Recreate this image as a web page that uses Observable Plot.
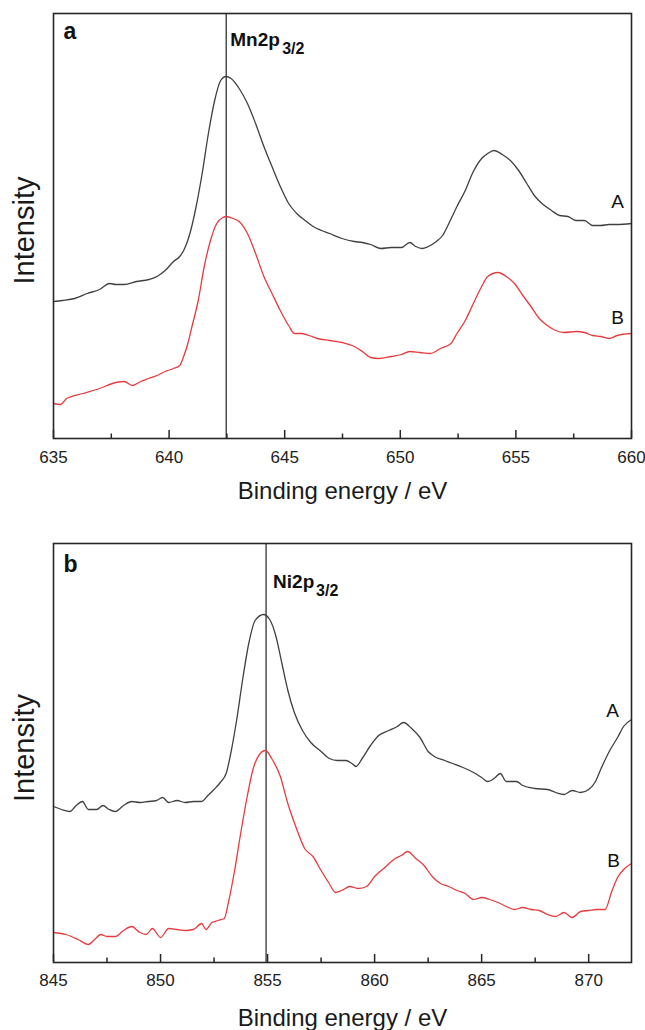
<!DOCTYPE html>
<html><head><meta charset="utf-8">
<script src="https://cdn.jsdelivr.net/npm/d3@7"></script>
<script src="https://cdn.jsdelivr.net/npm/@observablehq/plot@0.6"></script>
<style>html,body{margin:0;padding:0;background:#fff} svg{display:block}</style>
</head><body><div id="chart"></div>
<script>
const FONT = "'Liberation Sans', Arial, Helvetica, sans-serif";

// ---------- Panel a: Mn2p (binding energy in eV, intensity in a.u.) ----------
const mnTicks = [635, 640, 645, 650, 655, 660];
const mnMinor = [637.5, 642.5, 647.5, 652.5, 657.5];
const mnPeak = 642.47;
const mnEnergyA = [635.00, 635.39, 635.92, 636.46, 636.99, 637.43, 637.70, 638.06, 638.59, 639.12, 639.48, 639.83, 640.19, 640.46, 640.63, 640.90, 641.17, 641.43, 641.70, 641.97, 642.23, 642.46, 642.68, 643.03, 643.39, 643.74, 644.10, 644.45, 644.81, 645.17, 645.52, 645.88, 646.23, 646.59, 646.94, 647.48, 648.01, 648.36, 648.72, 649.16, 649.61, 650.05, 650.41, 650.67, 650.94, 651.21, 651.56, 651.83, 652.10, 652.45, 652.81, 653.16, 653.52, 653.78, 654.05, 654.41, 654.76, 655.12, 655.47, 655.83, 656.18, 656.54, 656.89, 657.25, 657.61, 657.96, 658.32, 658.67, 659.03, 659.38, 660.00];
const mnIntensityA = [137, 138, 140, 145, 149, 155, 154, 154, 157, 159, 162, 168, 177, 182, 188, 205, 232, 265, 305, 338, 358, 362, 360, 350, 335, 315, 292, 272, 252, 235, 225, 218, 212, 208, 205, 200, 197, 196, 194, 190, 191, 191, 196, 192, 190, 192, 197, 203, 215, 232, 248, 267, 280, 285, 288, 284, 278, 268, 255, 242, 234, 228, 223, 222, 218, 218, 213, 213, 214, 214, 215];
const mnEnergyB = [635.00, 635.30, 635.57, 636.28, 636.99, 637.70, 638.06, 638.41, 638.77, 639.12, 639.48, 639.83, 640.19, 640.46, 640.63, 640.81, 640.99, 641.26, 641.52, 641.79, 642.06, 642.32, 642.46, 642.77, 643.03, 643.39, 643.74, 644.10, 644.45, 644.81, 645.17, 645.43, 645.70, 646.05, 646.41, 646.94, 647.48, 648.01, 648.36, 648.72, 649.07, 649.61, 650.05, 650.41, 650.85, 651.30, 651.74, 652.19, 652.45, 652.81, 653.16, 653.52, 653.78, 654.23, 654.58, 654.94, 655.30, 655.65, 656.01, 656.36, 656.72, 657.07, 657.61, 657.96, 658.32, 658.67, 659.03, 659.38, 660.00];
const mnIntensityB = [35, 34, 40, 45, 50, 56, 57, 53, 57, 60, 63, 67, 70, 73, 82, 95, 112, 138, 172, 198, 215, 221, 222, 220, 217, 205, 185, 162, 145, 128, 113, 105, 105, 103, 100, 98, 96, 92, 87, 81, 80, 82, 84, 87, 86, 85, 90, 95, 105, 118, 135, 152, 162, 166, 162, 155, 143, 132, 120, 113, 108, 106, 107, 106, 103, 102, 100, 103, 105];

// ---------- Panel b: Ni2p ----------
const niTicks = [845, 850, 855, 860, 865, 870];
const niMinor = [847.5, 852.5, 857.5, 862.5, 867.5];
const niPeak = 854.93;
const niEnergyA = [845.00, 845.38, 845.77, 846.06, 846.35, 846.63, 847.02, 847.31, 847.60, 847.88, 848.27, 848.65, 849.04, 849.42, 849.81, 850.10, 850.38, 850.77, 851.15, 851.54, 851.92, 852.21, 852.50, 852.79, 853.08, 853.27, 853.56, 853.85, 854.13, 854.42, 854.81, 855.10, 855.38, 855.67, 855.96, 856.25, 856.63, 857.02, 857.50, 857.88, 858.27, 858.65, 858.94, 859.13, 859.42, 859.81, 860.19, 860.67, 861.06, 861.35, 861.73, 862.12, 862.50, 862.79, 863.27, 863.65, 864.13, 864.62, 865.00, 865.29, 865.58, 865.87, 866.15, 866.63, 866.92, 867.50, 868.08, 868.46, 868.85, 869.23, 869.62, 870.00, 870.29, 870.58, 870.96, 871.35, 871.63, 872.00];
const niIntensityA = [156, 153, 151, 157, 161, 153, 153, 157, 153, 151, 157, 161, 160, 161, 162, 165, 160, 162, 160, 161, 161, 167, 173, 180, 190, 208, 243, 285, 320, 342, 348, 343, 327, 299, 271, 250, 232, 220, 211, 204, 202, 202, 199, 196, 204, 217, 227, 232, 236, 240, 234, 225, 211, 206, 202, 199, 195, 190, 185, 181, 184, 189, 181, 181, 177, 174, 173, 170, 168, 172, 170, 173, 180, 194, 211, 225, 236, 243];
const niEnergyB = [845.00, 845.58, 846.15, 846.63, 846.92, 847.21, 847.50, 847.88, 848.27, 848.65, 849.04, 849.33, 849.62, 850.00, 850.38, 850.77, 851.15, 851.54, 851.92, 852.12, 852.40, 852.69, 852.98, 853.17, 853.46, 853.75, 854.04, 854.33, 854.62, 854.90, 855.19, 855.58, 855.96, 856.35, 856.73, 857.12, 857.50, 857.88, 858.17, 858.46, 858.85, 859.23, 859.62, 860.00, 860.48, 860.96, 861.25, 861.54, 861.92, 862.31, 862.69, 863.08, 863.46, 863.85, 864.23, 864.62, 865.00, 865.38, 865.77, 866.15, 866.54, 866.92, 867.31, 867.69, 868.08, 868.46, 868.85, 869.23, 869.62, 870.00, 870.38, 870.77, 871.06, 871.35, 871.63, 872.00];
const niIntensityB = [30, 28, 23, 18, 23, 28, 26, 26, 32, 36, 30, 28, 34, 25, 34, 33, 32, 33, 39, 33, 40, 42, 44, 60, 92, 130, 165, 194, 208, 212, 204, 187, 158, 134, 114, 106, 92, 79, 70, 72, 76, 74, 76, 86, 95, 104, 107, 111, 104, 97, 86, 79, 76, 72, 69, 63, 65, 63, 60, 56, 53, 55, 53, 52, 48, 46, 50, 45, 51, 52, 53, 53, 70, 85, 93, 99];

const seriesNames = ["A", "B"];
const xTitle = "Binding energy / eV";
const yTitle = "Intensity";

function panel(p) {
  const A = p.energyA.map((x, i) => ({x, y: p.intA[i]}));
  const B = p.energyB.map((x, i) => ({x, y: p.intB[i]}));
  const frameH = p.height - p.mt - p.mb;
  const ink = "#262626";
  return Plot.plot({
    width: 645, height: p.height,
    marginTop: p.mt, marginBottom: p.mb, marginLeft: 53, marginRight: 14,
    x: {domain: p.domain, axis: null},
    y: {domain: [0, frameH], axis: null},
    style: {fontFamily: FONT, background: "white", color: ink, overflow: "visible"},
    marks: [
      Plot.ruleX([p.peak], {stroke: "#333", strokeWidth: 1.3}),
      Plot.line(B, {x: "x", y: "y", stroke: "#e63b3f", strokeWidth: 1.3, curve: "monotone-x"}),
      Plot.line(A, {x: "x", y: "y", stroke: "#404040", strokeWidth: 1.3, curve: "monotone-x"}),
      Plot.frame({stroke: ink, strokeWidth: 1.6}),
      Plot.tickX(p.major, {x: d => d, insetTop: frameH - 8, stroke: ink, strokeWidth: 1.5}),
      Plot.tickX(p.minor, {x: d => d, insetTop: frameH - 4.5, stroke: ink, strokeWidth: 1.5}),
      Plot.axisX(p.major, {tickSize: 0, tickPadding: p.tickPad, fontSize: 17, fill: "#222", label: null}),
      // series labels near curve ends
      Plot.text([A[A.length - 1]], {x: "x", y: "y", text: () => seriesNames[0], dx: p.labA[0], dy: p.labA[1], fontSize: 19, fill: "#111"}),
      Plot.text([B[B.length - 1]], {x: "x", y: "y", text: () => seriesNames[1], dx: p.labB[0], dy: p.labB[1], fontSize: 19, fill: "#111"}),
      // panel letter
      Plot.text([p.letter], {frameAnchor: "top-left", textAnchor: "start", lineAnchor: "bottom", dx: 10, dy: p.letterDy, fontSize: 23, fontWeight: "bold", fill: "#111"}),
      // peak label with subscript
      Plot.text([p.peak], {x: d => d, text: () => p.peakLabel, frameAnchor: "top", textAnchor: "start", lineAnchor: "bottom", dx: p.pdx, dy: p.pdy, fontSize: 19, fontWeight: "bold", fill: "#111"}),
      Plot.text([p.peak], {x: d => d, text: () => "3/2", frameAnchor: "top", textAnchor: "start", lineAnchor: "bottom", dx: p.sdx, dy: p.pdy + 8, fontSize: 16, fontWeight: "bold", fill: "#111"}),
      // axis titles
      Plot.text([xTitle], {frameAnchor: "bottom", textAnchor: "middle", lineAnchor: "bottom", dy: p.titleDy, fontSize: 24, fill: "#1a1a1a"}),
      Plot.text([yTitle], {frameAnchor: "left", textAnchor: "middle", lineAnchor: "middle", rotate: -90, dx: -29, dy: p.intDy, fontSize: 29, fill: "#1a1a1a"})
    ]
  });
}

const chart = document.getElementById("chart");
chart.append(panel({
  domain: [635, 660], major: mnTicks, minor: mnMinor, height: 515, mt: 13, mb: 77,
  energyA: mnEnergyA, intA: mnIntensityA, energyB: mnEnergyB, intB: mnIntensityB,
  peak: mnPeak, peakLabel: "Mn2p", pdx: 4, pdy: 32, sdx: 56,
  letter: "a", letterDy: 25, titleDy: 60, intDy: 4.5, tickPad: 12,
  labA: [-14, -22], labB: [-14, -16]
}));
chart.append(panel({
  domain: [845, 872], major: niTicks, minor: niMinor, height: 515, mt: 28, mb: 68,
  energyA: niEnergyA, intA: niIntensityA, energyB: niEnergyB, intB: niIntensityB,
  peak: niPeak, peakLabel: "Ni2p", pdx: 7, pdy: 44, sdx: 50,
  letter: "b", letterDy: 28.5, titleDy: 63, intDy: -5, tickPad: 11,
  labA: [-19, -9], labB: [-18, -3]
}));
</script>
</body></html>
